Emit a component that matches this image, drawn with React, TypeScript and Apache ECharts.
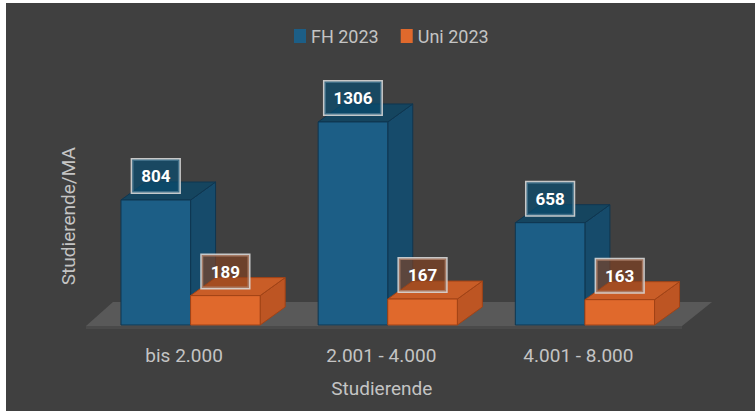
import React, { useEffect, useRef } from "react";
import * as echarts from "echarts";

const CATEGORIES = ["bis 2.000", "2.001 - 4.000", "4.001 - 8.000"];
const FH_2023 = [804, 1306, 658];
const UNI_2023 = [189, 167, 163];
const SERIES_NAMES = ["FH 2023", "Uni 2023"];

const W = 755;
const H = 412;
const GRID_L = 92;
const GRID_R = 683.5;
const Y0 = 325;
const Y_MAX = 1400;
const GRID_TOP = Y0 - Y_MAX * 0.15547;
const BAR_RATIO = 0.353;
const DX = 25;
const DY = -18;
const FONT = "Roboto, 'Noto Sans', sans-serif";

type Palette = { front: string; side: string; top: string; edge: string; box: string };
const FH_COLORS: Palette = {
  front: "#1c5e86",
  side: "#164b6b",
  top: "#15455f",
  edge: "#0f3650",
  box: "rgba(10,75,110,0.72)",
};
const UNI_COLORS: Palette = {
  front: "#e0692c",
  side: "#bd5523",
  top: "#c95d27",
  edge: "#a14316",
  box: "rgba(140,66,30,0.6)",
};

function makeRender(seriesIdx: number, c: Palette) {
  return (params: any, api: any) => {
    const idx = api.value(0);
    const val = api.value(1);
    const top = api.coord([idx, val]);
    const base = api.coord([idx, 0]);
    const band = api.size([1, 0])[0];
    const w = band * BAR_RATIO;
    const x0 = top[0] - w + seriesIdx * w;
    const yT = top[1];
    const yB = base[1];
    return {
      type: "group",
      children: [
        {
          type: "polygon",
          shape: {
            points: [
              [x0 + w, yT],
              [x0 + w + DX, yT + DY],
              [x0 + w + DX, yB + DY],
              [x0 + w, yB],
            ],
          },
          style: { fill: c.side, stroke: c.edge, lineWidth: 1 },
        },
        {
          type: "polygon",
          shape: {
            points: [
              [x0, yT],
              [x0 + DX, yT + DY],
              [x0 + w + DX, yT + DY],
              [x0 + w, yT],
            ],
          },
          style: { fill: c.top, stroke: c.edge, lineWidth: 1 },
        },
        {
          type: "rect",
          shape: { x: x0, y: yT, width: w, height: yB - yT },
          style: { fill: c.front, stroke: c.edge, lineWidth: 1 },
        },
        {
          type: "text",
          x: x0 + w / 2,
          y: yT - 24,
          style: {
            text: String(val),
            fill: "#ffffff",
            fontSize: 17,
            fontWeight: "bold",
            fontFamily: FONT,
            align: "center",
            verticalAlign: "middle",
            backgroundColor: c.box,
            borderColor: "rgba(215,215,215,0.9)",
            borderWidth: 1.5,
            padding: [7, 9, 7, 9],
            lineHeight: 19,
          },
        },
      ],
    };
  };
}

export default function App() {
  const ref = useRef<HTMLDivElement>(null);
  useEffect(() => {
    if (!ref.current) return;
    const chart = echarts.init(ref.current, null, { renderer: "svg" });
    const floorFront = Y0 + 1;
    const floorBack = Y0 - 23;
    chart.setOption({
      animation: false,
      backgroundColor: "#ffffff",
      graphic: [
        {
          type: "rect",
          z: -10,
          shape: { x: 6, y: 3, width: W - 6, height: H - 4 },
          style: { fill: "#404040" },
        },
        {
          type: "rect",
          z: -9,
          shape: { x: GRID_L - 6, y: floorFront, width: GRID_R - 1.5 - (GRID_L - 6), height: 3 },
          style: { fill: "#4a4a4a" },
        },
        {
          type: "polygon",
          z: -9,
          shape: {
            points: [
              [GRID_L - 6, floorFront],
              [GRID_R - 1.5, floorFront],
              [GRID_R + 28.5, floorBack],
              [GRID_L + 21, floorBack],
            ],
          },
          style: { fill: "#595959" },
        },
      ],
      legend: {
        left: 289,
        top: 22,
        itemWidth: 12,
        itemHeight: 14,
        itemGap: 22,
        icon: "rect",
        data: SERIES_NAMES,
        textStyle: { color: "#c4c4c4", fontSize: 18, fontFamily: FONT },
      },
      grid: {
        left: GRID_L,
        right: W - GRID_R,
        top: GRID_TOP,
        bottom: H - Y0,
      },
      xAxis: {
        type: "category",
        data: CATEGORIES,
        axisLine: { show: false },
        axisTick: { show: false },
        axisLabel: {
          color: "#c4c4c4",
          fontSize: 19,
          fontFamily: FONT,
          margin: 21,
          padding: [0, 13, 0, 0],
        },
        name: "Studierende",
        nameLocation: "middle",
        nameGap: 54,
        nameTextStyle: {
          color: "#c4c4c4",
          fontSize: 19,
          fontFamily: FONT,
          padding: [0, 12, 0, 0],
        },
      },
      yAxis: {
        type: "value",
        min: 0,
        max: Y_MAX,
        axisLine: { show: false },
        axisTick: { show: false },
        axisLabel: { show: false },
        splitLine: { show: false },
        name: "Studierende/MA",
        nameLocation: "middle",
        nameGap: 14,
        nameTextStyle: { color: "#c4c4c4", fontSize: 19, fontFamily: FONT },
      },
      series: [
        {
          name: SERIES_NAMES[0],
          type: "custom",
          itemStyle: { color: FH_COLORS.front },
          encode: { x: 0, y: 1 },
          data: FH_2023.map((v, i) => [i, v]),
          renderItem: makeRender(0, FH_COLORS),
          clip: false,
          z: 2,
        },
        {
          name: SERIES_NAMES[1],
          type: "custom",
          itemStyle: { color: UNI_COLORS.front },
          encode: { x: 0, y: 1 },
          data: UNI_2023.map((v, i) => [i, v]),
          renderItem: makeRender(1, UNI_COLORS),
          clip: false,
          z: 3,
        },
      ],
    });
    return () => chart.dispose();
  }, []);
  return (
    <div
      ref={ref}
      style={{ position: "absolute", left: 0, top: 0, width: W, height: H }}
    />
  );
}
